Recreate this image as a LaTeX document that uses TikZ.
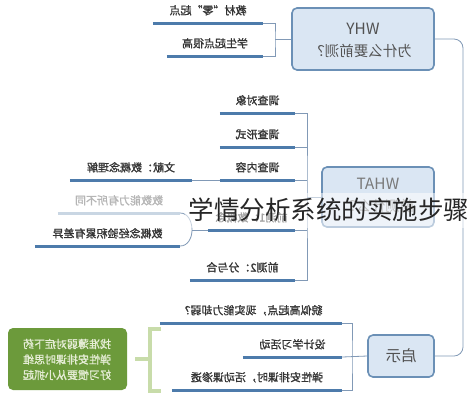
\documentclass[tikz,border=0pt]{standalone}
\usepackage{graphicx}
\usepackage{fontspec}
\newfontfamily\cjk{Noto Sans CJK SC}
\newfontfamily\cjkb[FakeBold=1.2]{Noto Sans CJK SC}
\definecolor{boxline}{HTML}{6B90B6}
\definecolor{boxfill}{HTML}{DAE6F3}
\definecolor{ulc}{HTML}{4D7BAB}
\definecolor{connc}{HTML}{8199B6}
\definecolor{txt}{HTML}{333333}
\definecolor{greenfill}{HTML}{6C9A3B}
\definecolor{greentxt}{HTML}{E6EDD6}
\definecolor{greenbr}{HTML}{C8DCAA}
\definecolor{faint}{HTML}{B5B5B5}
\definecolor{faintline}{HTML}{C9D6E3}
\tikzset{
  mainbox/.style={draw=boxline, fill=boxfill, line width=1.6pt, rounded corners=5pt, inner sep=0pt},
  boxtext/.style={font=\cjk\fontsize{14.5}{16}\selectfont, text=txt!85},
  item/.style={anchor=south, inner sep=0pt, minimum height=25pt, font=\cjkb\fontsize{11}{13}\selectfont, text=txt},
  gtext/.style={font=\cjkb\fontsize{11}{13}\selectfont, text=greentxt},
  ul/.style={line width=3pt, draw=ulc},
  conn/.style={line width=0.8pt, draw=connc},
  gbr/.style={line width=4pt, draw=greenbr},
}
\newcommand{\mir}[1]{\reflectbox{#1}}
\begin{document}
\begin{tikzpicture}[x=1pt,y=-1pt]
\useasboundingbox (0,0) rectangle (470,400);
\fill[white] (0,0) rectangle (470,400);

% main boxes
\node[mainbox, minimum width=142pt, minimum height=62pt] (why) at (363,39) {};
\node[boxtext, font=\cjk\fontsize{15.5}{17}\selectfont] (whyt) at (363,29) {\mir{WHY}};
\node[boxtext] (whyq) at (361,51) {\mir{为什么要前测？}};

\node[mainbox, minimum width=112pt, minimum height=60pt] (what) at (378,197) {};
\node[boxtext, font=\cjk\fontsize{15.5}{17}\selectfont, text=txt!65] (whatt) at (378,184) {\mir{WHAT}};
\node[boxtext, text=txt!65] (whatq) at (378,206) {\mir{前测什么？}};

\node[mainbox, minimum width=66pt, minimum height=42pt] (qs) at (401,356) {};
\node[boxtext, font=\cjk\fontsize{15.5}{17}\selectfont] (qst) at (401,356) {\mir{启示}};

% trunk
\draw[conn, rounded corners=9pt] (why.east) -- (463,39) -- (463,356) -- (qs.east);

% WHY children
\node[item, minimum width=110pt] (w1) at (208,23) {\mir{教材“零”起点}};
\node[item, minimum width=96pt] (w2) at (215,56) {\mir{学生起点很高}};
\foreach \n in {w1,w2} \draw[ul] (\n.south west) -- (\n.south east);
\coordinate (bw) at (275,39);
\draw[conn] (w1.south east) -| (bw) |- (w2.south east);
\draw[conn] (why) -- (bw);

% WHAT children
\node[item, minimum width=75pt] (h1) at (257.5,113) {\mir{调查对象}};
\node[item, minimum width=75pt] (h2) at (257.5,147) {\mir{调查形式}};
\node[item, minimum width=75pt] (h3) at (257.5,180) {\mir{调查内容}};
\node[item, minimum width=87pt] (h4) at (251.5,230) {\mir{前测1：数概念}};
\node[item, minimum width=105pt] (h5) at (242.5,280) {\mir{前测2：分与合}};
\node[item, minimum width=122pt] (l1) at (131,180) {\mir{文献：数概念理解}};
\node[item, minimum width=122pt, text=faint] (c1) at (119,213) {\mir{数数能力有所不同}};
\node[item, minimum width=145pt] (c2) at (107.5,246) {\mir{数概念经验积累有差异}};
\foreach \n in {h1,h2,h3,h4,h5,l1,c2} \draw[ul] (\n.south west) -- (\n.south east);
\draw[ul, draw=faintline] (c1.south west) -- (c1.south east);
\coordinate (bh) at (307,197);
\draw[conn] (h1.south east) -| (bh) |- (h5.south east);
\foreach \n in {h2,h3,h4} \draw[conn] (\n.south east) -- (bh |- \n.south east);
\draw[conn] (what) -- (bh);
\draw[conn] (h3.south west) -- (l1.south east);
\coordinate (bc) at (192,230);
\draw[conn] (c1.south east) to[out=0,in=90] (bc) to[out=-90,in=0] (c2.south east);
\draw[conn] (bc) -- (h4.south west);

% 启示 children
\node[item, minimum width=182pt] (q1) at (251,323) {\mir{貌似高起点，现实能力却弱？}};
\node[item, minimum width=99pt] (q2) at (292.5,357) {\mir{设计学习活动}};
\node[item, minimum width=170pt] (q3) at (257,390) {\mir{弹性安排课时，活动课渗透}};
\foreach \n in {q1,q2,q3} \draw[ul] (\n.south west) -- (\n.south east);
\coordinate (bq) at (352,357);
\draw[conn] (q1.south east) -| (bq) |- (q3.south east);
\draw[conn] (q2.south east) -- (qs.west);

% green summary
\node[fill=greenfill, rounded corners=5pt, minimum width=119pt, minimum height=62pt, inner sep=0pt] (gbox) at (67.5,359) {};
\node[gtext] (g1) at (67,344) {\mir{找准薄弱对症下药}};
\node[gtext] (g2) at (67,359.5) {\mir{弹性安排课时思维}};
\node[gtext] (g3) at (67,375) {\mir{好习惯要从小抓起}};
\coordinate (gb) at (150,359);
\draw[gbr] (161,329) -- (150,329) -- (150,391) -- (161,391);
\draw[gbr, shorten <=8pt] (gbox.east) -- (gb);

% overlay title
\fill[white, opacity=0.55] (185,193) rectangle (470,228);
\node[font=\cjk\fontsize{25.5}{28}\selectfont, text=black!85, inner sep=0pt] (title) at (329,210) {学情分析系统的实施步骤};
\end{tikzpicture}
\end{document}
